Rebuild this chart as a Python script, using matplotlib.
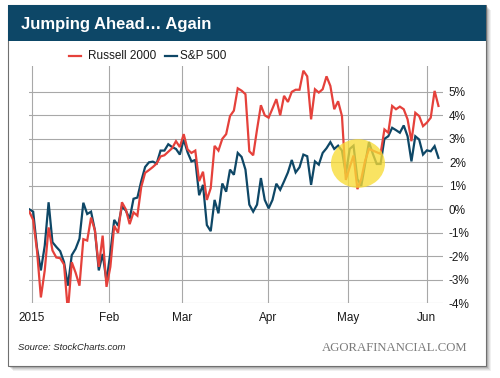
import matplotlib
matplotlib.use("Agg")
import matplotlib.pyplot as plt
from matplotlib.patches import Rectangle, Ellipse
from matplotlib.lines import Line2D

# ---- data (percent change since start of 2015, one value per trading day) ----
russell_2000 = [
    -0.1, -0.45, -1.77, -3.75, -2.6, -0.77, -1.75, -2.05, -2.08, -2.35,
    -4.35, -2.25, -2.7, -3.25, -1.27, -1.33, -0.35, -0.9, -2.45, -1.12,
    -3.3, -2.45, -0.7, -1.0, 0.3, 0.0, -0.63, -0.13, -0.27, 0.95,
    1.55, 1.67, 1.8, 1.95, 2.25, 2.3, 2.45, 2.6, 2.9, 2.65,
    3.2, 2.55, 2.4, 2.5, 1.2, 1.6, 0.4, 0.9, 2.7, 2.5,
    3.0, 3.2, 3.97, 4.2, 5.15, 5.05, 4.9, 2.47, 2.3, 3.4,
    4.43, 4.0, 3.9, 4.29, 4.69, 4.0, 4.83, 4.57, 5.0, 5.09,
    5.09, 5.9, 5.66, 3.83, 5.11, 4.97, 5.11, 5.66, 5.25, 4.26,
    4.6, 3.97, 1.25, 1.79, 2.29, 0.86, 1.29, 2.07, 2.57, 2.5,
    2.43, 2.36, 3.4, 3.26, 4.4, 4.26, 4.37, 4.26, 3.83, 2.9,
    4.11, 3.97, 3.54, 3.69, 3.9, 5.04, 4.4,
]
sp_500 = [
    0.0, -0.1, -1.65, -2.6, -1.55, 0.3, -1.4, -1.6, -1.78, -2.25,
    -3.25, -1.95, -1.68, -1.25, 0.28, -0.2, -0.1, -0.9, -2.6, -1.9,
    -3.05, -1.85, -0.45, -0.7, 0.12, -0.05, -0.4, 0.45, 0.5, 1.2,
    1.8, 2.0, 2.03, 1.95, 2.5, 2.5, 2.77, 2.65, 2.57, 2.33,
    2.97, 2.43, 2.04, 2.1, 0.6, 1.04, -0.67, -0.93, 0.4, -0.17,
    1.1, 0.75, 1.69, 1.47, 2.4, 2.23, 1.69, 0.2, -0.1, 0.2,
    1.33, 0.4, 0.04, 0.4, 1.09, 0.83, 1.19, 1.57, 2.1, 1.57,
    1.79, 2.33, 2.26, 1.04, 2.04, 1.9, 2.4, 2.6, 2.86, 2.57,
    2.71, 2.5, 1.5, 2.57, 2.71, 1.29, 1.0, 1.93, 2.86, 2.36,
    1.93, 1.93, 3.0, 3.11, 3.47, 3.37, 3.26, 3.57, 3.11, 2.04,
    3.11, 2.97, 2.33, 2.51, 2.47, 2.69, 2.19,
]
month_labels = ["2015", "Feb", "Mar", "Apr", "May", "Jun"]
month_positions = [0.7, 20.6, 39.5, 61.8, 82.5, 103.0]   # trading-day index of month starts
y_ticks = [-4, -3, -2, -1, 0, 1, 2, 3, 4, 5]

# highlighted region (early May)
highlight_center = (85.15, 1.95)
highlight_size = (14.0, 2.07)

W, H = 500, 378
fig = plt.figure(figsize=(W / 100, H / 100), dpi=100)
fig.patch.set_facecolor("white")

def fx(px):
    return px / W

def fy(py):
    return 1 - py / H

# ---- frame, shadow, header ----
bx0, by0, bx1, by1 = 8, 5, 486, 366
for k, a in enumerate([0.06, 0.07, 0.09, 0.12]):
    off = 5 - k
    fig.patches.append(Rectangle((fx(bx0 + off), fy(by1 + off)), fx(bx1 - bx0), (by1 - by0) / H,
                                 transform=fig.transFigure, facecolor="black", edgecolor="none",
                                 alpha=a, zorder=-20))
fig.patches.append(Rectangle((fx(bx0), fy(by1)), fx(bx1 - bx0), (by1 - by0) / H,
                             transform=fig.transFigure, facecolor="white", edgecolor="#707070",
                             lw=0.8, zorder=-10))
fig.patches.append(Rectangle((fx(bx0), fy(41)), fx(bx1 - bx0), (41 - by0) / H,
                             transform=fig.transFigure, facecolor="#0d4767", edgecolor="none",
                             zorder=-9))
fig.text(fx(21), fy(24), "Jumping Ahead\u2026 Again", color="white", fontsize=12,
         fontweight="bold", family="Liberation Sans", va="center", ha="left")

# ---- axes ----
left_px, right_px, top_px, bot_px = 29, 443, 66, 303.3
ax = fig.add_axes([fx(left_px), fy(bot_px), fx(right_px - left_px), (bot_px - top_px) / H])
ax.patch.set_visible(False)
x = list(range(len(russell_2000)))
ax.plot(x, sp_500, color="#0e4766", lw=1.6, zorder=3, solid_joinstyle="miter")
ax.plot(x, russell_2000, color="#e5413b", lw=1.6, zorder=4, solid_joinstyle="miter")

ax.add_patch(Ellipse(highlight_center, highlight_size[0], highlight_size[1],
                     facecolor="#f8dc36", edgecolor="none", alpha=0.78, zorder=5))

spacing = 3.86
ax.set_xlim((left_px - 29.3) / spacing, (right_px - 29.3) / spacing)
ax.set_ylim(-4, 6.1)
ax.set_xticks(month_positions)
ax.set_xticklabels(month_labels)
ax.set_yticks(y_ticks)
ax.set_yticklabels([f"{v}%" for v in y_ticks])
ax.yaxis.tick_right()
ax.tick_params(axis="both", length=0, labelsize=8.5, labelcolor="#1a1a1a")
ax.tick_params(axis="y", pad=4.3)
ax.tick_params(axis="x", pad=6.5)
for lab in ax.get_xticklabels() + ax.get_yticklabels():
    lab.set_family("Liberation Sans")
ax.grid(True, color="#a8a8a8", lw=0.8, zorder=1)
for s in ax.spines.values():
    s.set_visible(False)

# ---- legend (manual) ----
ly = fy(56)
fig.lines.append(Line2D([fx(69), fx(81)], [ly, ly], transform=fig.transFigure,
                        color="#e5413b", lw=1.6))
fig.text(fx(88), ly, "Russell 2000", fontsize=8.5, family="Liberation Sans",
         va="center", ha="left", color="#1a1a1a")
fig.lines.append(Line2D([fx(165), fx(177)], [ly, ly], transform=fig.transFigure,
                        color="#0e4766", lw=1.6))
fig.text(fx(180), ly, "S&P 500", fontsize=8.5, family="Liberation Sans",
         va="center", ha="left", color="#1a1a1a")

# ---- footer ----
fig.text(fx(18), fy(348), "Source: StockCharts.com", fontsize=6.8, style="italic",
         family="Liberation Sans", va="center", ha="left", color="#222222")
fig.text(fx(467), fy(348), "AGORAFINANCIAL.COM", fontsize=9.2, family="Liberation Serif",
         va="center", ha="right", color="#7a7a7a")

fig.savefig("out.png", dpi=100)
